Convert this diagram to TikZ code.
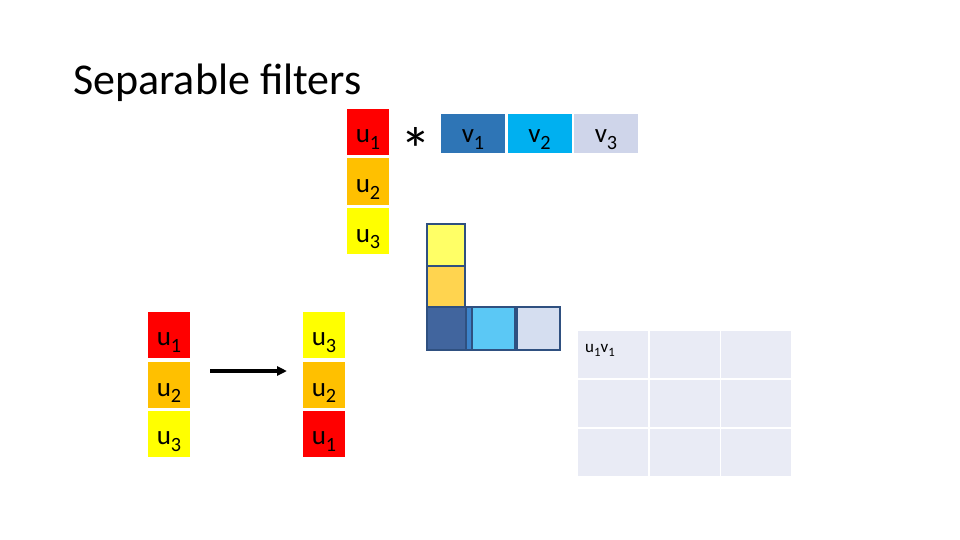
\documentclass[tikz,border=0pt]{standalone}
\usepackage{fontspec}
\setmainfont{Carlito}
\usetikzlibrary{arrows.meta,positioning}
\definecolor{uRed}{HTML}{FF0000}
\definecolor{uOrange}{HTML}{FFC000}
\definecolor{uYellow}{HTML}{FFFF00}
\definecolor{vDark}{HTML}{2E75B6}
\definecolor{vCyan}{HTML}{00B0F0}
\definecolor{vLight}{HTML}{CFD5EA}
\definecolor{lYellow}{HTML}{FFFF66}
\definecolor{lOrange}{HTML}{FFD44F}
\definecolor{lDark}{HTML}{41659E}
\definecolor{lMid}{HTML}{3C84CB}
\definecolor{lCyan}{HTML}{5BC8F5}
\definecolor{lLight}{HTML}{D5DEF0}
\definecolor{lEdge}{HTML}{2F5080}
\definecolor{gridFill}{HTML}{E9EBF5}
\tikzset{
    % Filter tap (u column)
    ucell/.style={
        minimum width=42pt,
        minimum height=46pt,
        inner sep=0pt,
        text height=26pt,
        text depth=4pt,
        font=\fontsize{27}{27}\selectfont
    },
    % Filter tap (v row)
    vcell/.style={
        minimum width=64pt,
        minimum height=39pt,
        inner sep=0pt,
        text height=22pt,
        text depth=3pt,
        font=\fontsize{27}{27}\selectfont
    },
    % Outlined box of the L shape
    lcell/.style={
        draw=lEdge,
        line width=2pt,
        inner sep=0pt
    },
    % Output grid cell
    gcell/.style={
        fill=gridFill,
        minimum width=70pt,
        minimum height=47pt,
        inner sep=0pt
    },
    % Arrow
    myarrow/.style={
        -{Triangle[length=10pt,width=9pt]},
        line width=3.2pt,
        draw=black
    }
}
\newcommand{\ut}[1]{u\raisebox{-0.25em}{\scalebox{0.75}{#1}}}
\newcommand{\vt}[1]{v\raisebox{-0.25em}{\scalebox{0.75}{#1}}}
\begin{document}
\begin{tikzpicture}[x=1pt,y=-1pt]
    \useasboundingbox (0,0) rectangle (960,540);

    % Title
    \node[anchor=base west, inner sep=0pt, font=\fontsize{44}{44}\selectfont] (title) at (73,95) {Separable filters};

    % Column filter u
    \node[ucell, fill=uRed] (ua1) at (368,132) {\ut1};
    \node[ucell, fill=uOrange] (ua2) at (368,181.5) {\ut2};
    \node[ucell, fill=uYellow] (ua3) at (368,231) {\ut3};

    % Convolution sign
    \node[font=\fontsize{62}{62}\selectfont] (star) at (416,149) {*};

    % Row filter v
    \node[vcell, fill=vDark] (va1) at (473,133.5) {\vt1};
    \node[vcell, fill=vCyan] (va2) at (539.5,133.5) {\vt2};
    \node[vcell, fill=vLight] (va3) at (606,133.5) {\vt3};

    % Flip of the column filter
    \node[ucell, fill=uRed] (ub1) at (169,334.5) {\ut1};
    \node[ucell, fill=uOrange] (ub2) at (169,385) {\ut2};
    \node[ucell, fill=uYellow] (ub3) at (169,433.5) {\ut3};
    \node[ucell, fill=uYellow] (uc3) at (324,334.5) {\ut3};
    \node[ucell, fill=uOrange] (uc2) at (324,385) {\ut2};
    \node[ucell, fill=uRed] (uc1) at (324,433.5) {\ut1};
    \coordinate (arrs) at (210,371);
    \coordinate (arre) at (287,371);
    \draw[myarrow] (arrs) -- (arre);

    % L shaped kernel
    \node[lcell, fill=lMid, minimum width=45pt, minimum height=43pt, anchor=west] (lmid) at (427,328.5) {};
    \node[lcell, fill=lYellow, minimum width=38pt, minimum height=42pt] (ly) at (446,245) {};
    \node[lcell, fill=lOrange, minimum width=38pt, minimum height=41pt] (lo) at (446,286.5) {};
    \node[lcell, fill=lDark, minimum width=39pt, minimum height=43pt] (ld) at (446.5,328.5) {};
    \node[lcell, fill=lCyan, minimum width=43pt, minimum height=43pt] (lc) at (493.5,328.5) {};
    \node[lcell, fill=lLight, minimum width=43pt, minimum height=43pt] (ll) at (538,328.5) {};

    % Output grid
    \foreach \c/\x in {1/613,2/684.5,3/755.5}
      \foreach \r/\y in {1/354,2/403,3/452}
        \node[gcell] (g\r\c) at (\x,\y) {};
    \node[anchor=base west, inner sep=0pt, font=\fontsize{17}{17}\selectfont] (g11txt) at (585,352) {\ut1\vt1};
\end{tikzpicture}
\end{document}
